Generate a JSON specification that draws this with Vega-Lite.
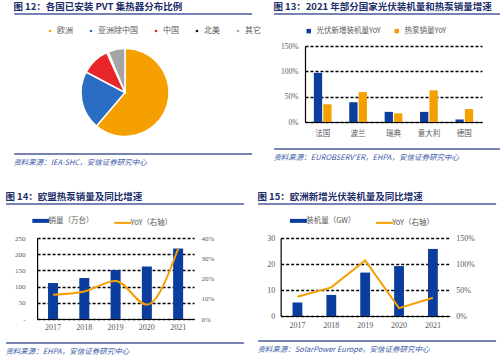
{
  "$schema": "https://vega.github.io/schema/vega-lite/v6.json",
  "background": "white",
  "padding": {"left": 5, "top": 1, "right": 2, "bottom": 0},
  "config": {
    "view": {"stroke": null},
    "font": "Noto Sans CJK SC",
    "axis": {"labelFont": "Liberation Serif", "labelFontSize": 8, "labelColor": "#595959", "ticks": false},
    "legend": {"labelFont": "Noto Sans CJK SC", "labelFontSize": 7.5, "labelColor": "#595959"}
  },
  "resolve": {"scale": {"color": "independent"}, "legend": {"color": "independent"}},
  "spacing": 24,
  "vconcat": [
    {
      "spacing": 12,
      "resolve": {"scale": {"color": "independent"}, "legend": {"color": "independent"}},
      "hconcat": [
        {
          "spacing": 11,
          "center": true,
          "resolve": {"scale": {"color": "independent"}, "legend": {"color": "independent"}},
          "vconcat": [
            {
              "width": 238, "height": 2,
              "data": {"values": [{"k": 0}]},
              "mark": {"type": "rule", "color": "#4A5A9A", "strokeWidth": 1.5},
              "encoding": {"y": {"datum": 0, "type": "quantitative", "axis": null}},
              "title": {"text": "图 12：各国已安装 PVT 集热器分布比例", "anchor": "start", "fontSize": 9.5, "fontWeight": "bold", "color": "#1C2E6B", "offset": 2}
            },
            {
              "width": 238, "height": 99,
              "data": {"values": [
                {"region": "欧洲", "share": 61.2, "ord": 1},
                {"region": "亚洲除中国", "share": 21.5, "ord": 2},
                {"region": "中国", "share": 10.5, "ord": 3},
                {"region": "北美", "share": 0.6, "ord": 4},
                {"region": "其它", "share": 6.2, "ord": 5}
              ]},
              "mark": {"type": "arc", "outerRadius": 44, "stroke": "white", "strokeWidth": 1.5},
              "encoding": {
                "theta": {"field": "share", "type": "quantitative", "stack": true},
                "order": {"field": "ord", "type": "quantitative"},
                "color": {"field": "region", "type": "nominal", "sort": ["欧洲", "亚洲除中国", "中国", "北美", "其它"],
                  "scale": {"domain": ["欧洲", "亚洲除中国", "中国", "北美", "其它"], "range": ["#F59F00", "#2B6CC4", "#E8262A", "#111111", "#A5A5A5"]},
                  "legend": {"title": null, "orient": "none", "legendX": 40, "legendY": -16, "direction": "horizontal", "gridAlign": "none", "symbolType": "circle", "symbolSize": 18, "labelOffset": 3, "labelFontSize": 8, "columnPadding": 12}}
              }
            },
            {
              "width": 238, "height": 2,
              "data": {"values": [{"k": 0}]},
              "mark": {"type": "rule", "color": "#4A5A9A", "strokeWidth": 1.5},
              "encoding": {"y": {"datum": 0, "type": "quantitative", "axis": null}},
              "title": {"text": "资料来源：IEA-SHC，安信证券研究中心", "orient": "bottom", "anchor": "start", "fontSize": 7.5, "fontStyle": "italic", "fontWeight": "normal", "color": "#3C5AA8", "offset": 3}
            }
          ]
        },
        {
          "spacing": 11,
          "center": true,
          "resolve": {"scale": {"color": "independent"}, "legend": {"color": "independent"}},
          "vconcat": [
            {
              "width": 238, "height": 2,
              "data": {"values": [{"k": 0}]},
              "mark": {"type": "rule", "color": "#4A5A9A", "strokeWidth": 1.5},
              "encoding": {"y": {"datum": 0, "type": "quantitative", "axis": null}},
              "title": {"text": "图 13：2021 年部分国家光伏装机量和热泵销量增速", "anchor": "start", "fontSize": 9.5, "fontWeight": "bold", "color": "#1C2E6B", "offset": 2}
            },
            {
              "width": 177, "height": 76,
              "data": {"values": [
                {"country": "法国", "series": "光伏新增装机量YoY", "value": 0.97},
                {"country": "法国", "series": "热泵销量YoY", "value": 0.35},
                {"country": "波兰", "series": "光伏新增装机量YoY", "value": 0.39},
                {"country": "波兰", "series": "热泵销量YoY", "value": 0.59},
                {"country": "瑞典", "series": "光伏新增装机量YoY", "value": 0.20},
                {"country": "瑞典", "series": "热泵销量YoY", "value": 0.17},
                {"country": "意大利", "series": "光伏新增装机量YoY", "value": 0.20},
                {"country": "意大利", "series": "热泵销量YoY", "value": 0.625},
                {"country": "德国", "series": "光伏新增装机量YoY", "value": 0.05},
                {"country": "德国", "series": "热泵销量YoY", "value": 0.255}
              ]},
              "mark": {"type": "bar"},
              "encoding": {
                "x": {"field": "country", "type": "nominal", "sort": ["法国", "波兰", "瑞典", "意大利", "德国"],
                  "scale": {"paddingInner": 0.5, "paddingOuter": 0.25},
                  "axis": {"title": null, "labelAngle": 0, "labelFont": "Noto Sans CJK SC", "labelFontSize": 7.5, "labelPadding": 7, "domainColor": "#000", "domainWidth": 1.2, "grid": false}},
                "xOffset": {"field": "series", "type": "nominal", "sort": ["光伏新增装机量YoY", "热泵销量YoY"], "scale": {"paddingInner": 0.12}},
                "y": {"field": "value", "type": "quantitative", "scale": {"domain": [0, 1.5]},
                  "axis": {"title": null, "values": [0, 0.5, 1, 1.5], "format": ".0%", "labelFontSize": 7.5, "grid": true, "gridColor": "#000", "gridDash": [3, 2], "gridWidth": 1.3, "domain": true, "domainColor": "#000", "domainWidth": 1.2, "labelPadding": 7}},
                "color": {"field": "series", "type": "nominal",
                  "scale": {"domain": ["光伏新增装机量YoY", "热泵销量YoY"], "range": ["#0B3D9E", "#F5A000"]},
                  "legend": {"title": null, "orient": "top", "direction": "horizontal", "symbolType": "square", "symbolSize": 20, "offset": 11, "columnPadding": 12}}
              }
            },
            {
              "width": 238, "height": 2,
              "data": {"values": [{"k": 0}]},
              "mark": {"type": "rule", "color": "#4A5A9A", "strokeWidth": 1.5},
              "encoding": {"y": {"datum": 0, "type": "quantitative", "axis": null}},
              "title": {"text": "资料来源：EUROBSERV'ER，EHPA，安信证券研究中心", "orient": "bottom", "anchor": "start", "fontSize": 7.5, "fontStyle": "italic", "fontWeight": "normal", "color": "#3C5AA8", "offset": 3}
            }
          ]
        }
      ]
    },
    {
      "spacing": 12,
      "resolve": {"scale": {"color": "independent"}, "legend": {"color": "independent"}},
      "hconcat": [
        {
          "spacing": 11,
          "center": true,
          "resolve": {"scale": {"color": "independent"}, "legend": {"color": "independent"}},
          "vconcat": [
            {
              "width": 238, "height": 2,
              "data": {"values": [{"k": 0}]},
              "mark": {"type": "rule", "color": "#4A5A9A", "strokeWidth": 1.5},
              "encoding": {"y": {"datum": 0, "type": "quantitative", "axis": null}},
              "title": {"text": "图 14：欧盟热泵销量及同比增速", "anchor": "start", "fontSize": 9.5, "fontWeight": "bold", "color": "#1C2E6B", "offset": 2}
            },
            {
              "width": 157, "height": 81,
              "data": {"values": [
                {"year": "2017", "sales": 111, "yoy": 0.12},
                {"year": "2018", "sales": 126.5, "yoy": 0.136},
                {"year": "2019", "sales": 151, "yoy": 0.188},
                {"year": "2020", "sales": 162, "yoy": 0.071},
                {"year": "2021", "sales": 217.5, "yoy": 0.347}
              ]},
              "layer": [
                {
                  "mark": {"type": "bar"},
                  "encoding": {
                    "x": {"field": "year", "type": "ordinal", "scale": {"paddingInner": 0.68, "paddingOuter": 0.35},
                      "axis": {"title": null, "labelAngle": 0, "labelPadding": 4, "domainColor": "#000", "domainWidth": 1.2, "grid": false}},
                    "y": {"field": "sales", "type": "quantitative", "scale": {"domain": [0, 250]},
                      "axis": {"title": null, "values": [0, 50, 100, 150, 200, 250], "labelExpr": "datum.value == 0 ? '-' : datum.label", "labelFontSize": 7, "grid": true, "gridColor": "#000", "gridDash": [3, 2], "gridWidth": 1.3, "domain": true, "domainColor": "#000", "domainWidth": 1.2, "labelPadding": 12}},
                    "color": {"datum": "销量（万台）", "type": "nominal",
                      "scale": {"domain": ["销量（万台）", "YoY（右轴）"], "range": ["#0B3D9E", "#F5A000"]},
                      "legend": {"title": null, "orient": "top", "direction": "horizontal", "symbolType": "stroke", "symbolSize": 290, "offset": 9, "columnPadding": 16,
                        "encode": {"symbols": {"update": {"stroke": {"signal": "datum.value == '销量（万台）' ? '#0B3D9E' : '#F5A000'"}, "strokeWidth": {"signal": "datum.value == '销量（万台）' ? 4 : 2"}}}}}}
                  }
                },
                {
                  "mark": {"type": "line", "interpolate": "monotone", "strokeWidth": 2},
                  "encoding": {
                    "x": {"field": "year", "type": "ordinal"},
                    "y": {"field": "yoy", "type": "quantitative", "scale": {"domain": [0, 0.4]},
                      "axis": {"title": null, "orient": "right", "values": [0, 0.1, 0.2, 0.3, 0.4], "format": ".0%", "labelFontSize": 7, "grid": false, "domain": false, "labelPadding": 7}},
                    "color": {"datum": "YoY（右轴）", "type": "nominal"}
                  }
                }
              ],
              "resolve": {"scale": {"y": "independent"}}
            },
            {
              "width": 238, "height": 2,
              "data": {"values": [{"k": 0}]},
              "mark": {"type": "rule", "color": "#4A5A9A", "strokeWidth": 1.5},
              "encoding": {"y": {"datum": 0, "type": "quantitative", "axis": null}},
              "title": {"text": "资料来源：EHPA，安信证券研究中心", "orient": "bottom", "anchor": "start", "fontSize": 7.5, "fontStyle": "italic", "fontWeight": "normal", "color": "#3C5AA8", "offset": 3}
            }
          ]
        },
        {
          "spacing": 11,
          "center": true,
          "resolve": {"scale": {"color": "independent"}, "legend": {"color": "independent"}},
          "vconcat": [
            {
              "width": 238, "height": 2,
              "data": {"values": [{"k": 0}]},
              "mark": {"type": "rule", "color": "#4A5A9A", "strokeWidth": 1.5},
              "encoding": {"y": {"datum": 0, "type": "quantitative", "axis": null}},
              "title": {"text": "图 15：欧洲新增光伏装机量及同比增速", "anchor": "start", "fontSize": 9.5, "fontWeight": "bold", "color": "#1C2E6B", "offset": 2}
            },
            {
              "width": 169, "height": 78,
              "data": {"values": [
                {"year": "2017", "cap": 5.2, "yoy": 0.37},
                {"year": "2018", "cap": 8.1, "yoy": 0.55},
                {"year": "2019", "cap": 16.7, "yoy": 1.07},
                {"year": "2020", "cap": 19.2, "yoy": 0.15},
                {"year": "2021", "cap": 25.8, "yoy": 0.35}
              ]},
              "layer": [
                {
                  "mark": {"type": "bar"},
                  "encoding": {
                    "x": {"field": "year", "type": "ordinal", "scale": {"paddingInner": 0.71, "paddingOuter": 0.35},
                      "axis": {"title": null, "labelAngle": 0, "labelPadding": 5, "domainColor": "#000", "domainWidth": 1.2, "grid": false}},
                    "y": {"field": "cap", "type": "quantitative", "scale": {"domain": [0, 30]},
                      "axis": {"title": null, "values": [0, 10, 20, 30], "grid": true, "gridColor": "#000", "gridDash": [3, 2], "gridWidth": 1.3, "domain": true, "domainColor": "#000", "domainWidth": 1.2, "labelPadding": 6}},
                    "color": {"datum": "装机量（GW）", "type": "nominal",
                      "scale": {"domain": ["装机量（GW）", "YoY（右轴）"], "range": ["#0B3D9E", "#F5A000"]},
                      "legend": {"title": null, "orient": "none", "legendX": 14, "legendY": -21, "direction": "horizontal", "symbolType": "stroke", "symbolSize": 290, "columnPadding": 16,
                        "encode": {"symbols": {"update": {"stroke": {"signal": "datum.value == '装机量（GW）' ? '#0B3D9E' : '#F5A000'"}, "strokeWidth": {"signal": "datum.value == '装机量（GW）' ? 4 : 2"}}}}}}
                  }
                },
                {
                  "mark": {"type": "line", "strokeWidth": 2},
                  "encoding": {
                    "x": {"field": "year", "type": "ordinal"},
                    "y": {"field": "yoy", "type": "quantitative", "scale": {"domain": [0, 1.5]},
                      "axis": {"title": null, "orient": "right", "values": [0, 0.5, 1, 1.5], "format": ".0%", "grid": false, "domain": false, "labelPadding": 6}},
                    "color": {"datum": "YoY（右轴）", "type": "nominal"}
                  }
                }
              ],
              "resolve": {"scale": {"y": "independent"}}
            },
            {
              "width": 238, "height": 2,
              "data": {"values": [{"k": 0}]},
              "mark": {"type": "rule", "color": "#4A5A9A", "strokeWidth": 1.5},
              "encoding": {"y": {"datum": 0, "type": "quantitative", "axis": null}},
              "title": {"text": "资料来源：SolarPower Europe，安信证券研究中心", "orient": "bottom", "anchor": "start", "fontSize": 7.5, "fontStyle": "italic", "fontWeight": "normal", "color": "#3C5AA8", "offset": 3}
            }
          ]
        }
      ]
    }
  ]
}
